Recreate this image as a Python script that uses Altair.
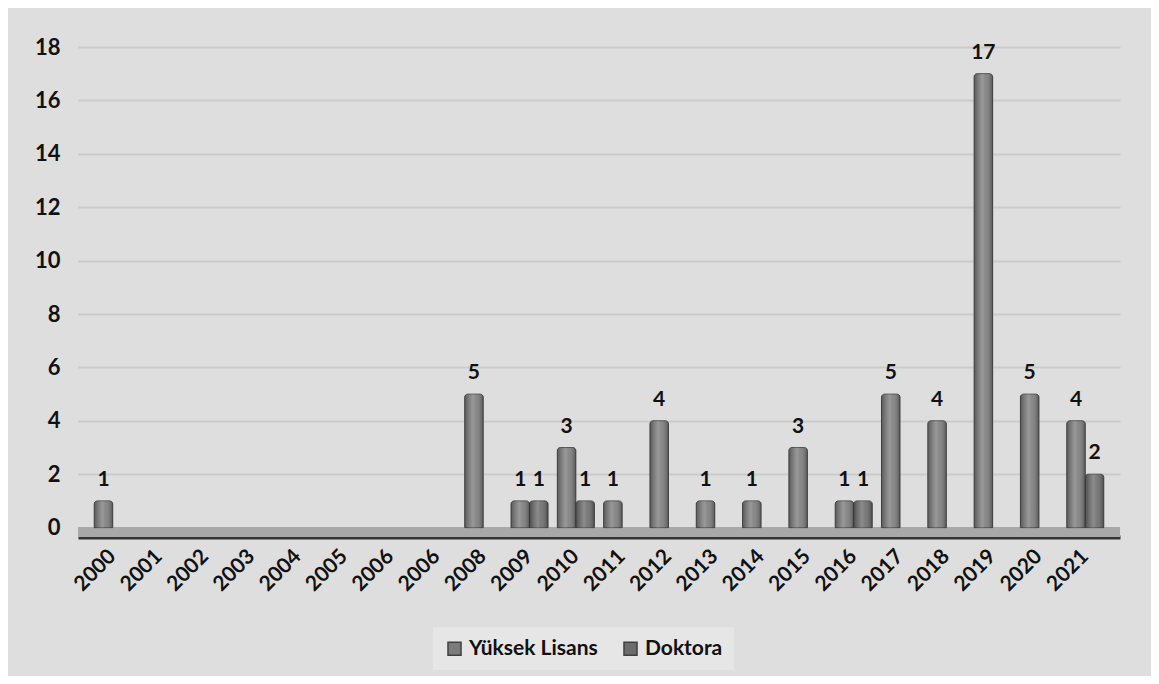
import json
import altair as alt
import pandas as pd

# ---- data ----
year_labels = ["2000", "2001", "2002", "2003", "2004", "2005", "2006", "2006",
               "2008", "2009", "2010", "2011", "2012", "2013", "2014", "2015",
               "2016", "2017", "2018", "2019", "2020", "2021"]
yuksek_lisans = [1, None, None, None, None, None, None, None,
                 5, 1, 3, 1, 4, 1, 1, 3, 1, 5, 4, 17, 5, 4]
doktora = [None, None, None, None, None, None, None, None,
           None, 1, 1, None, None, None, None, None, 1, None, None, None, None, 2]
series_names = ["Yüksek Lisans", "Doktora"]
y_ticks = [0, 2, 4, 6, 8, 10, 12, 14, 16, 18]

rows = []
for i, lab in enumerate(year_labels):
    for name, vals in zip(series_names, [yuksek_lisans, doktora]):
        if vals[i] is not None:
            rows.append({"idx": i, "year": lab, "series": name, "value": vals[i]})
df = pd.DataFrame(rows)

W, H = 1042, 490
FONT = "Lato"

label_expr = json.dumps(year_labels) + "[datum.value]"

x_enc = alt.X(
    "idx:O",
    scale=alt.Scale(domain=list(range(len(year_labels))), paddingInner=0.2, paddingOuter=0.35),
    axis=alt.Axis(
        title=None, labelExpr=label_expr, labelAngle=-45, labelAlign="right",
        labelBaseline="middle", labelFont=FONT, labelFontWeight="bold", labelFontSize=21,
        labelColor="#111111", labelPadding=16, ticks=False, domainColor="#333333",
        domainWidth=4, grid=False,
    ),
)
y_scale = alt.Scale(domain=[-0.35, 18], nice=False, zero=False)
y_axis = alt.Axis(title=None, values=y_ticks, labelFont=FONT, labelFontWeight="bold",
                  labelFontSize=22, labelColor="#111111", labelPadding=18,
                  ticks=False, domain=False, grid=True, gridColor="#cbcbcb", gridWidth=2)
x_off = alt.XOffset("series:N", scale=alt.Scale(domain=series_names))

base = alt.Chart(df)

floor = base.mark_rect(color="#a8a8a8").encode(
    x=alt.value(0), x2=alt.value(W),
    y=alt.Y(datum=0, scale=y_scale, axis=y_axis), y2=alt.Y2(datum=-0.35),
)

bars = base.mark_bar(stroke="#4a4a4a", strokeWidth=1, cornerRadiusTopLeft=3,
                     cornerRadiusTopRight=3).encode(
    x=x_enc,
    xOffset=x_off,
    y=alt.Y("value:Q", scale=y_scale, axis=y_axis),
    y2=alt.Y2(datum=0),
    color=alt.Color("series:N", scale=alt.Scale(domain=series_names, range=["#7c7c7c", "#6c6c6c"]),
                    legend=alt.Legend(title=None, orient="none", direction="horizontal",
                                      legendX=355, legendY=580, symbolType="square",
                                      symbolSize=170, symbolStrokeColor="#404040",
                                      symbolStrokeWidth=1.5, labelFont=FONT, labelFontWeight="bold",
                                      labelFontSize=21, labelColor="#111111", columnPadding=22,
                                      fillColor="#e6e6e6", padding=11, labelOffset=4)),
)

shine = base.mark_bar(
    cornerRadiusTopLeft=3, cornerRadiusTopRight=3,
    fill=alt.Gradient(gradient="linear", x1=0, x2=1, y1=0, y2=0, stops=[
        alt.GradientStop(offset=0, color="rgba(0,0,0,0.28)"),
        alt.GradientStop(offset=0.45, color="rgba(255,255,255,0.22)"),
        alt.GradientStop(offset=0.6, color="rgba(255,255,255,0.1)"),
        alt.GradientStop(offset=1, color="rgba(0,0,0,0.3)"),
    ]),
).encode(
    x=x_enc, xOffset=x_off, y=alt.Y("value:Q", scale=y_scale, axis=y_axis), y2=alt.Y2(datum=0),
)

labels = base.mark_text(font=FONT, fontWeight="bold", fontSize=21, color="#111111",
                        baseline="bottom", dy=-11).encode(
    x=x_enc, xOffset=x_off, y=alt.Y("value:Q", scale=y_scale, axis=y_axis), text="value:Q",
)

chart = alt.layer(floor, bars, shine, labels).properties(
    width=W, height=H,
    autosize=alt.AutoSizeParams(type="none"),
    padding={"left": 70, "top": 39, "right": 31, "bottom": 139},
    background="#dedede",
).configure_view(stroke=None).configure_axisY(grid=True, gridColor="#cbcbcb", gridWidth=2)

chart.save("out.html", embed_options={"renderer": "svg", "actions": False})
